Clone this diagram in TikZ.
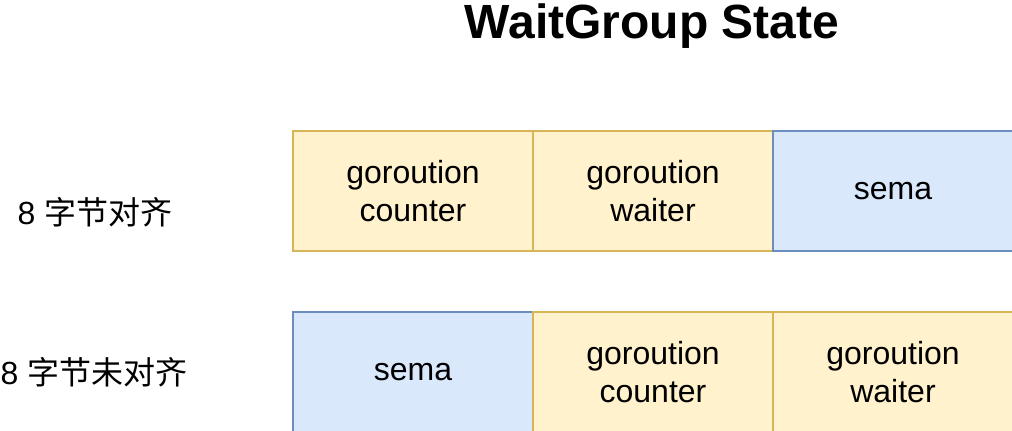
\documentclass[tikz,border=0pt]{standalone}
\usepackage{fontspec}
\setmainfont{Liberation Sans}
\newfontfamily\cjk{Noto Sans CJK SC}
\definecolor{yfill}{HTML}{FFF2CC}
\definecolor{ydraw}{HTML}{D6B656}
\definecolor{bfill}{HTML}{DAE8FC}
\definecolor{bdraw}{HTML}{6C8EBF}
\begin{document}
\begin{tikzpicture}[x=0.5pt, y=-0.5pt, line width=1pt]
                \tikzstyle{cell}=[rectangle, draw, minimum width=120pt, minimum height=60pt, inner sep=0pt, align=center, font=\fontsize{16}{19}\selectfont]
                \tikzstyle{counterfield}=[cell, fill=yfill, draw=ydraw]
                \tikzstyle{semafield}=[cell, fill=bfill, draw=bdraw]
                \tikzstyle{rowlabel}=[font=\fontsize{16}{19}\selectfont]
                \useasboundingbox (0, 0) rectangle (1012, 430);
                
                \node[font=\fontsize{24}{29}\selectfont\bfseries] (title) at (652, 26) {WaitGroup State};
                
                % 8 字节对齐
                \node[rowlabel] (aligned) at (95, 212) {8 {\cjk 字节对齐}};
                \node[counterfield] (a1) at (413, 191) {goroution\\counter};
                \node[counterfield] (a2) at (653, 191) {goroution\\waiter};
                \node[semafield] (a3) at (893, 191) {sema};
                
                % 8 字节未对齐
                \node[rowlabel] (unaligned) at (94, 372) {8 {\cjk 字节未对齐}};
                \node[semafield] (u1) at (413, 372) {sema};
                \node[counterfield] (u2) at (653, 372) {goroution\\counter};
                \node[counterfield] (u3) at (893, 372) {goroution\\waiter};
            \end{tikzpicture}
\end{document}
